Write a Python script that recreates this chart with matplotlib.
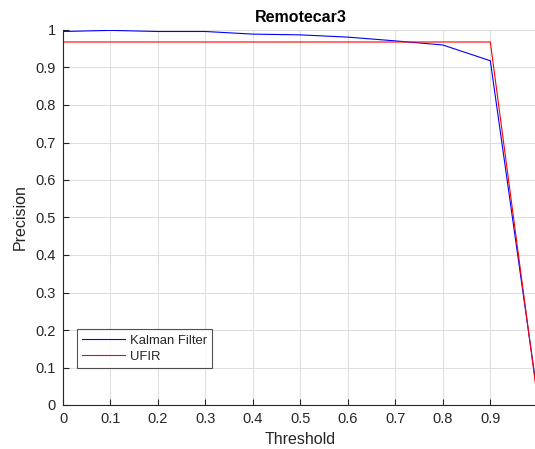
import matplotlib
matplotlib.use("Agg")
import matplotlib.pyplot as plt
import numpy as np

thresholds = [0.0, 0.1, 0.2, 0.3, 0.4, 0.5, 0.6, 0.7, 0.8, 0.9, 1.0]
kalman = [0.996, 0.999, 0.996, 0.996, 0.989, 0.987, 0.981, 0.971, 0.960, 0.918, 0.02]
ufir = [0.968, 0.968, 0.968, 0.968, 0.968, 0.968, 0.968, 0.968, 0.968, 0.968, 0.01]
xticks = [0, 0.1, 0.2, 0.3, 0.4, 0.5, 0.6, 0.7, 0.8, 0.9]
yticks = [0, 0.1, 0.2, 0.3, 0.4, 0.5, 0.6, 0.7, 0.8, 0.9, 1]

plt.rcParams['font.family'] = ['Liberation Sans', 'DejaVu Sans']
W, H = 535, 449
fig = plt.figure(figsize=(W/100, H/100), dpi=100)
left, right, top, bottom = 63, 537.8, 30, 405
ax = fig.add_axes([left/W, 1-bottom/H, (right-left)/W, (bottom-top)/H])

ax.plot(thresholds, kalman, color=(0, 0, 1), lw=0.8, label='Kalman Filter')
ax.plot(thresholds, ufir, color=(1, 0, 0), lw=0.8, label='UFIR')

ax.set_xlim(0, 1)
ax.set_ylim(0, 1)
ax.set_xticks(xticks)
ax.set_xticklabels([('%g' % v) for v in xticks])
ax.set_yticks(yticks)
ax.set_yticklabels([('%g' % v) for v in yticks])
ax.grid(True, color='#dfdfdf', lw=0.8)
ax.set_axisbelow(True)
for s in ['top', 'right']:
    ax.spines[s].set_visible(False)
for s in ['left', 'bottom']:
    ax.spines[s].set_color('#262626')
    ax.spines[s].set_linewidth(0.8)
ax.tick_params(direction='in', length=4, width=0.8, colors='#262626', labelsize=10.5, pad=5)
ax.set_xlabel('Threshold', fontsize=11.5, color='#262626', labelpad=4)
ax.set_ylabel('Precision', fontsize=11.5, color='#262626', labelpad=6)
ax.set_title('Remotecar3', fontsize=11.5, fontweight='bold', color='black', pad=6)

leg = ax.legend(loc='lower left', bbox_to_anchor=((77-left)/(right-left), (bottom-368)/(bottom-top)),
                fontsize=9.4, frameon=True, fancybox=False, handlelength=3.3,
                borderpad=0.4, labelspacing=0.3, handletextpad=0.35, borderaxespad=0)
leg.get_frame().set_edgecolor('#262626')
leg.get_frame().set_linewidth(0.8)
for t in leg.get_texts():
    t.set_color('#262626')

fig.savefig('out.png', dpi=100)
